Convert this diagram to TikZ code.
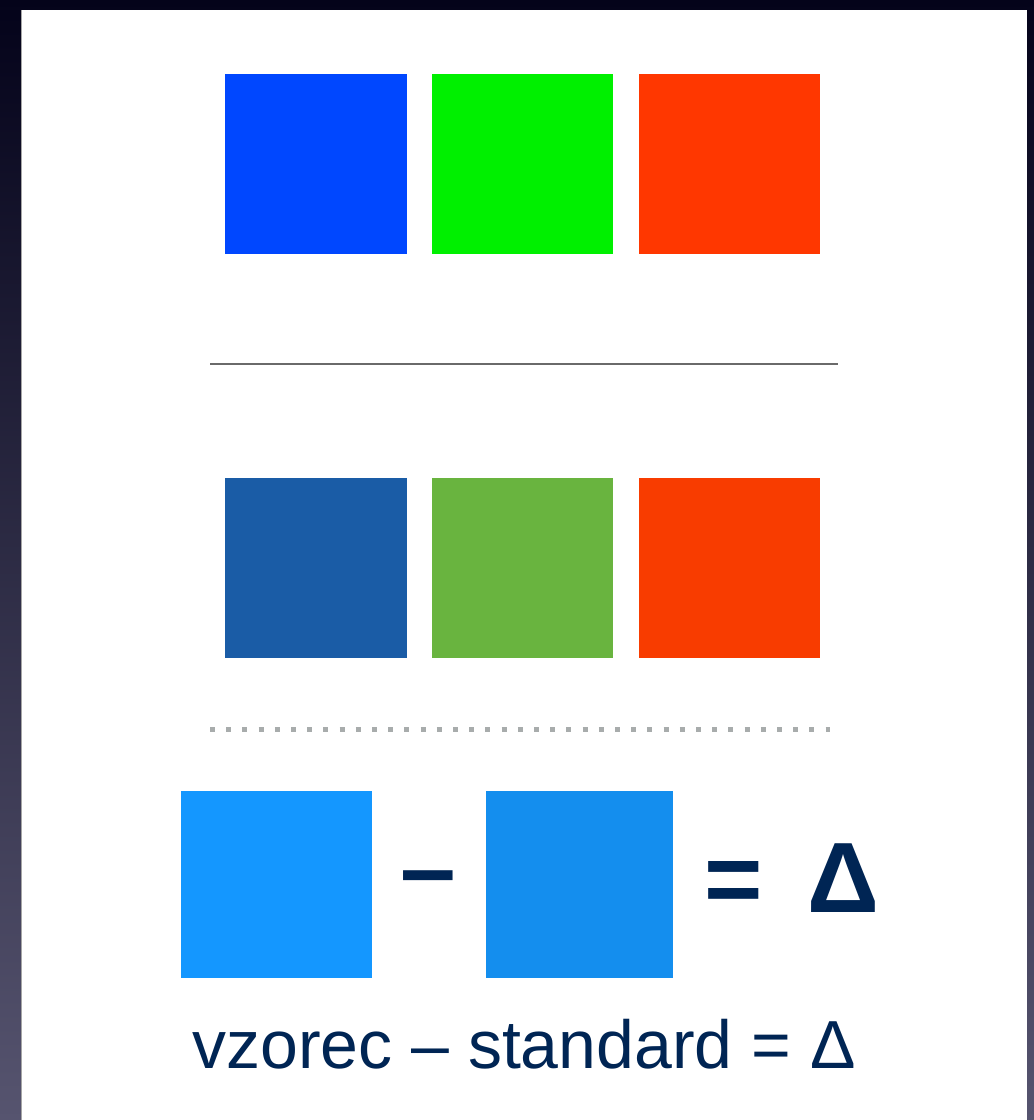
\documentclass[tikz,border=0pt]{standalone}
\usepackage{fontspec}
\setmainfont{Liberation Sans}
\definecolor{bgtop}{HTML}{04031A}
\definecolor{bgbot}{HTML}{56546F}
\definecolor{sqA}{HTML}{0047FF}
\definecolor{sqB}{HTML}{00F000}
\definecolor{sqC}{HTML}{FF3700}
\definecolor{sqD}{HTML}{1A5CA6}
\definecolor{sqE}{HTML}{69B43F}
\definecolor{sqF}{HTML}{F83C00}
\definecolor{sqG}{HTML}{1497FF}
\definecolor{sqH}{HTML}{148EEE}
\definecolor{navy}{HTML}{002554}
\definecolor{rulegray}{HTML}{6A6A6A}
\definecolor{dotgray}{HTML}{A8ACAC}
\tikzset{
  swatch/.style={rectangle, draw=none, inner sep=0pt, outer sep=0pt, anchor=north west},
  bigsym/.style={text=navy, inner sep=0pt, font=\fontsize{100}{110}\selectfont\bfseries},
  caption/.style={text=navy, inner sep=0pt, anchor=base, font=\fontsize{68}{74}\selectfont}
}
\begin{document}
\begin{tikzpicture}[x=1pt,y=-1pt]
\useasboundingbox (0,0) rectangle (1034,1120);
\shade[top color=bgtop, bottom color=bgbot] (0,0) rectangle (1034,1120);
\fill[white] (22,10) rectangle (1027,1120);
\draw[gray!70, line width=1pt] (21.5,10) -- (21.5,1120);
% top row
\node[swatch, fill=sqA, minimum width=182pt, minimum height=180pt] (t1) at (225,74) {};
\node[swatch, fill=sqB, minimum width=181pt, minimum height=180pt] (t2) at (432,74) {};
\node[swatch, fill=sqC, minimum width=181pt, minimum height=180pt] (t3) at (639,74) {};
% rule
\coordinate (r1) at (210,364);
\coordinate (r2) at (838,364);
\draw[rulegray, line width=2pt] (r1) -- (r2);
% second row
\node[swatch, fill=sqD, minimum width=182pt, minimum height=180pt] (m1) at (225,478) {};
\node[swatch, fill=sqE, minimum width=181pt, minimum height=180pt] (m2) at (432,478) {};
\node[swatch, fill=sqF, minimum width=181pt, minimum height=180pt] (m3) at (639,478) {};
% dotted rule
\coordinate (d1) at (210,729.5);
\coordinate (d2) at (830,729.5);
\draw[dotgray, line width=5pt, dash pattern=on 5pt off 11.2pt] (d1) -- (d2);
% equation
\node[swatch, fill=sqG, minimum width=191pt, minimum height=187pt] (e1) at (181,791) {};
\node[swatch, fill=sqH, minimum width=187pt, minimum height=187pt] (e2) at (486,791) {};
\node[bigsym] (minus) at (428,887) {–};
\node[bigsym] (eq) at (734,887) {=};
\node[bigsym] (delta) at (843,878) {Δ};
\node[caption] (cap) at (524,1068) {vzorec – standard = Δ};
\end{tikzpicture}
\end{document}
